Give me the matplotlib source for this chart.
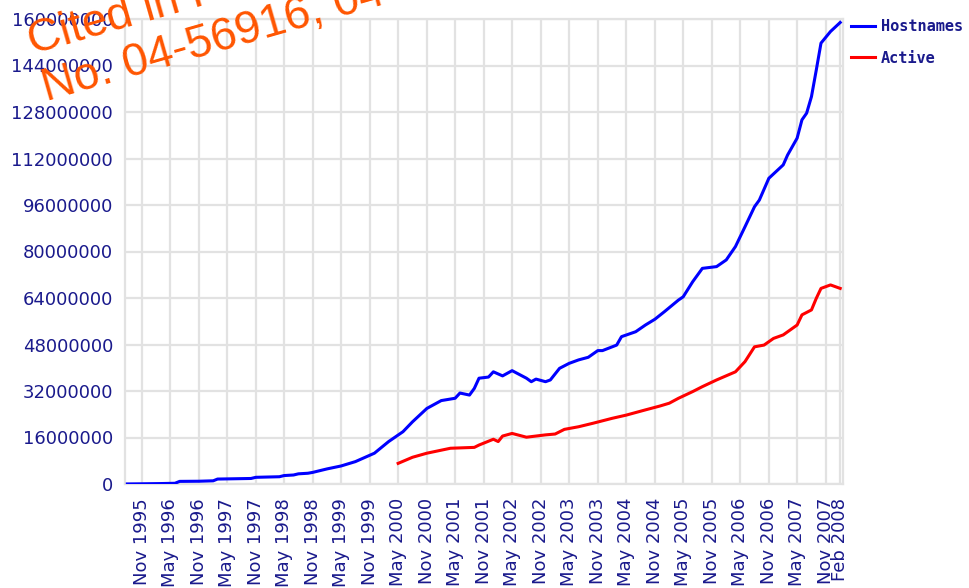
import matplotlib
matplotlib.use("Agg")
import matplotlib.pyplot as plt
import pandas as pd
from matplotlib.ticker import FuncFormatter

# Hostnames (millions)
host_months = [
    "1995-08", "1995-11", "1996-03", "1996-06", "1996-07", "1996-11", "1997-02", "1997-03",
    "1997-10", "1997-11", "1998-04", "1998-05", "1998-07", "1998-08", "1998-10", "1998-11",
    "1999-02", "1999-05", "1999-08", "1999-12", "2000-03", "2000-06", "2000-08", "2000-11",
    "2001-02", "2001-05", "2001-06", "2001-08", "2001-09", "2001-10", "2001-12", "2002-01",
    "2002-03", "2002-05", "2002-08", "2002-09", "2002-10", "2002-12", "2003-01", "2003-03",
    "2003-05", "2003-07", "2003-09", "2003-11", "2003-12", "2004-03", "2004-04", "2004-07",
    "2004-09", "2004-11", "2005-01", "2005-04", "2005-05", "2005-07", "2005-09", "2005-12",
    "2006-02", "2006-04", "2006-06", "2006-08", "2006-09", "2006-11", "2007-02", "2007-03",
    "2007-05", "2007-06", "2007-07", "2007-08", "2007-09", "2007-10", "2007-12", "2008-02",
]
host_values = [
    0.02, 0.07, 0.15, 0.25, 0.9, 0.95, 1.1, 1.7,
    1.9, 2.3, 2.5, 2.9, 3.1, 3.5, 3.7, 4.0,
    5.2, 6.2, 7.7, 10.6, 14.6, 18.0, 21.4, 26.0,
    28.7, 29.5, 31.3, 30.6, 32.9, 36.4, 36.8, 38.6,
    37.2, 39.0, 36.4, 35.2, 36.1, 35.2, 35.8, 39.8,
    41.5, 42.7, 43.6, 45.9, 45.9, 47.8, 50.7, 52.4,
    54.7, 56.7, 59.3, 63.3, 64.4, 69.6, 74.2, 74.8,
    77.1, 81.7, 88.5, 95.4, 97.7, 105.2, 109.8, 113.2,
    119.0, 125.3, 127.6, 133.3, 142.5, 151.7, 155.7, 158.8,
]

# Active sites (millions)
active_months = [
    "2000-05", "2000-08", "2000-11", "2001-04", "2001-09", "2001-10", "2002-01", "2002-02",
    "2002-03", "2002-05", "2002-08", "2002-12", "2003-02", "2003-04", "2003-07", "2003-10",
    "2004-02", "2004-05", "2004-09", "2004-12", "2005-02", "2005-04", "2005-07", "2005-09",
    "2005-12", "2006-04", "2006-06", "2006-08", "2006-10", "2006-12", "2007-02", "2007-05",
    "2007-06", "2007-08", "2007-09", "2007-10", "2007-12", "2008-02",
]
active_values = [
    7.1, 9.2, 10.6, 12.3, 12.6, 13.4, 15.4, 14.6,
    16.5, 17.4, 16.1, 16.9, 17.2, 18.8, 19.7, 20.9,
    22.6, 23.7, 25.5, 26.8, 27.8, 29.5, 31.8, 33.5,
    35.8, 38.6, 42.1, 47.2, 47.8, 50.1, 51.3, 54.7,
    58.2, 59.9, 63.9, 67.3, 68.5, 67.3,
]

tick_months = ["1995-11"] + [f"{y}-{m}" for y in range(1996, 2008) for m in ("05", "11")] + ["2008-02"]
tick_labels = [pd.Timestamp(t).strftime("%b %Y") for t in tick_months]

navy = "#1a1a8c"
grid_col = "#e2e2e2"

fig = plt.figure(figsize=(9.69, 5.88), dpi=100)
ax = fig.add_axes([125 / 969, 1 - 484 / 588, (843 - 125) / 969, (484 - 19) / 588])

host_x = pd.to_datetime(host_months)
act_x = pd.to_datetime(active_months)
ax.plot(host_x, [v * 1e6 for v in host_values], color="#0000ff", lw=2.2, label="Hostnames", zorder=3)
ax.plot(act_x, [v * 1e6 for v in active_values], color="#ff0000", lw=2.2, label="Active", zorder=3)

ax.set_xlim(pd.Timestamp("1995-07-17"), pd.Timestamp("2008-02-19"))
ax.set_ylim(0, 160e6)
ax.set_yticks([i * 16e6 for i in range(11)])
ax.yaxis.set_major_formatter(FuncFormatter(lambda v, p: f"{int(round(v))}"))
ax.set_xticks(pd.to_datetime(tick_months))
ax.set_xticklabels(tick_labels, rotation=90, ha="center", va="top")

ax.grid(True, color=grid_col, lw=1.6, zorder=0)
for s in ax.spines.values():
    s.set_color(grid_col)
    s.set_linewidth(1.6)
ax.tick_params(axis="y", length=0, pad=8.5, labelsize=13, labelcolor=navy)
ax.tick_params(axis="x", length=0, pad=10, labelsize=13, labelcolor=navy)

leg = ax.legend(loc="upper left", bbox_to_anchor=(851 / 969, 1 - 19 / 588),
                bbox_transform=fig.transFigure, frameon=False, borderpad=0,
                borderaxespad=0, handlelength=1.6, handletextpad=0.35, labelspacing=1.1,
                prop={"family": "DejaVu Sans Mono", "size": 11, "weight": "bold"})
for t in leg.get_texts():
    t.set_color(navy)

# watermark
wm = dict(color="#ff5500", fontsize=33, family="Liberation Sans", rotation=16,
          rotation_mode="anchor", ha="left", va="baseline", zorder=10)
fig.text(32 / 969, 1 - 54 / 588, "Cited in Fair Housing Council v. Roommates.com", **wm)
fig.text(46 / 969, 1 - 101 / 588, "No. 04-56916, 04-57173", **wm)

fig.savefig("out.png", dpi=100)
